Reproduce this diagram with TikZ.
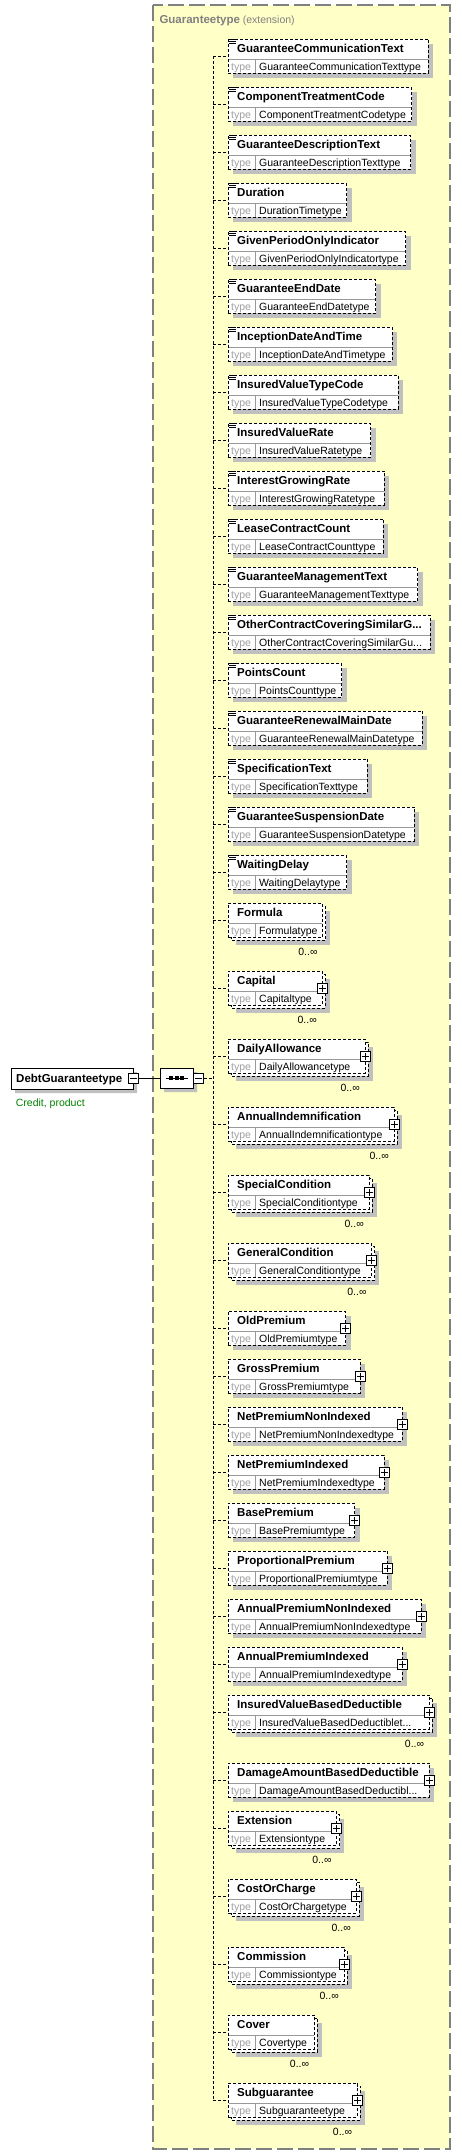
\documentclass[tikz,border=0pt]{standalone}
\usepackage{fontspec}
\setmainfont{Liberation Sans}
\usetikzlibrary{shapes.misc,shadows}
\definecolor{bgyellow}{HTML}{FFFFC8}
\definecolor{shadowgray}{HTML}{C0C0C0}
\definecolor{framegray}{HTML}{808080}
\definecolor{annotgreen}{HTML}{008000}
\definecolor{typegray}{HTML}{A0A0A0}
\tikzset{
 elbox/.style={draw=black, fill=white, line width=0.8pt, dash pattern=on 3pt off 2pt, inner sep=0pt, outer sep=0pt, rectangle},
 backbox/.style={draw=black, fill=white, line width=0.8pt, dash pattern=on 3pt off 2pt},
 divline/.style={draw=framegray!80, line width=0.7pt},
 namefont/.style={font=\fontsize{11.5}{13}\selectfont\bfseries, inner sep=0pt},
 typefont/.style={font=\fontsize{10.5}{12}\selectfont, inner sep=0pt},
 typelab/.style={font=\fontsize{10.5}{12}\selectfont, text=typegray, inner sep=0pt},
 multlab/.style={font=\fontsize{10.5}{12}\selectfont, inner sep=0pt},
 btn/.style={draw=black, fill=white, line width=0.8pt, minimum size=10pt, inner sep=0pt, rectangle},
 conn/.style={draw=black, line width=0.8pt, dash pattern=on 3pt off 2pt},
 icon/.style={draw=black, line width=0.8pt},
 sgl/.style={draw=black, line width=0.8pt},
}
% #1 id, #2 top, #3 right, #4 name, #5 type
\newcommand\xcore[5]{%
  \node[elbox, minimum width={(#3)-228}, minimum height=34, anchor=north west] (#1) at (228,#2) {};
  \draw[divline] (228.5,#2+20) -- (#3-0.5,#2+20);
  \draw[divline] (255.7,#2+20) -- (255.7,#2+33.5);
  \node[namefont, anchor=base west] (#1n) at (237,#2+13.5) {#4};
  \node[typelab, anchor=base west] (#1k) at (231,#2+31) {type};
  \node[typefont, anchor=base west] (#1t) at (259,#2+31) {#5};
}
\newcommand\xbtn[3]{%
  \node[btn] (#1b) at (#3,#2+17.3) {};
  \draw[sgl] ([xshift=-3.5pt]#1b.center) -- ([xshift=3.5pt]#1b.center)
             ([yshift=-3.5pt]#1b.center) -- ([yshift=3.5pt]#1b.center);
}
\newcommand\xsel[5]{%
  \fill[shadowgray] (233,#2+4.5) rectangle (#3+5,#2+38.5);
  \xcore{#1}{#2}{#3}{#4}{#5}
  \draw[icon] (229,#2+0.5) -- (235.5,#2+0.5) (229,#2+2.2) -- (235.5,#2+2.2) (229,#2+3.9) -- (235.5,#2+3.9);
}
\newcommand\xcel[5]{%
  \fill[shadowgray] (233,#2+4.5) rectangle (#3+5,#2+38.5);
  \xcore{#1}{#2}{#3}{#4}{#5}
  \xbtn{#1}{#2}{#3}
}
\newcommand\xrel[5]{%
  \fill[shadowgray] (235.5,#2+7.5) rectangle (#3+7.5,#2+41.5);
  \draw[backbox] (231,#2+3) rectangle (#3+3,#2+37);
  \xcore{#1}{#2}{#3}{#4}{#5}
  \node[multlab, anchor=base east] (#1m) at (#3-5,#2+52) {0..∞};
}
\newcommand\xrcel[5]{%
  \xrel{#1}{#2}{#3}{#4}{#5}
  \xbtn{#1}{#2}{#3}
}
\begin{document}
\begin{tikzpicture}[x=1pt,y=-1pt]
\useasboundingbox (0,0) rectangle (461,2155);
% container
\draw[framegray, line width=1.2pt, dash pattern=on 16pt off 5pt, fill=bgyellow] (153,5) rectangle (450,2149);
\node[anchor=base west, inner sep=0pt] (title) at (159.3,23)
  {\textcolor{framegray}{\fontsize{11.5}{13}\selectfont\bfseries Guaranteetype} \textcolor{framegray}{\fontsize{10.5}{12}\selectfont(extension)}};
% root element
\node[chamfered rectangle, chamfered rectangle corners={north west,south west},
      chamfered rectangle xsep=4pt, chamfered rectangle ysep=4pt,
      draw=black, fill=white, line width=0.8pt, inner sep=0pt,
      minimum width=122, minimum height=21, anchor=north west,
      general shadow={fill=shadowgray, shadow xshift=4pt, shadow yshift=-4pt}] (root) at (11,1068) {};
\node[namefont, anchor=base west] (rootn) at (16,1082.5) {DebtGuaranteetype};
\node[font=\fontsize{10.5}{12}\selectfont, text=annotgreen, anchor=base west, inner sep=0pt] (ann) at (15.7,1106) {Credit, product};
\node[btn] (rootb) at (133.3,1078) {};
\draw[sgl] ([xshift=-3.5pt]rootb.center) -- ([xshift=3.5pt]rootb.center);
% sequence compositor
\node[chamfered rectangle, chamfered rectangle xsep=5pt, chamfered rectangle ysep=5pt,
      draw=black, fill=white, line width=0.8pt, inner sep=0pt,
      minimum width=33, minimum height=20,
      general shadow={fill=shadowgray, shadow xshift=4pt, shadow yshift=-4pt}] (seq) at (176.5,1078) {};
\draw[sgl] ([xshift=-11pt]seq.center) -- ([xshift=11pt]seq.center);
\foreach \dx in {-5.5,0,5.5}{\fill[black] ([xshift=\dx pt]seq.center) +(-2,-1.6) rectangle +(2,1.6);}
\node[btn] (seqb) at (198.5,1078) {};
\draw[sgl] ([xshift=-3.5pt]seqb.center) -- ([xshift=3.5pt]seqb.center);
\draw[sgl] (rootb.east) -- (seq.west);
\coordinate (trunk) at (213,1078);
\draw[conn] (seqb.east) -- (trunk);
% children
\xsel{e1}{39}{428.3}{GuaranteeCommunicationText}{GuaranteeCommunicationTexttype}
\xsel{e2}{87}{411.7}{ComponentTreatmentCode}{ComponentTreatmentCodetype}
\xsel{e3}{135}{410.5}{GuaranteeDescriptionText}{GuaranteeDescriptionTexttype}
\xsel{e4}{183}{346.7}{Duration}{DurationTimetype}
\xsel{e5}{231}{405.7}{GivenPeriodOnlyIndicator}{GivenPeriodOnlyIndicatortype}
\xsel{e6}{279}{375.7}{GuaranteeEndDate}{GuaranteeEndDatetype}
\xsel{e7}{327}{392}{InceptionDateAndTime}{InceptionDateAndTimetype}
\xsel{e8}{375}{398}{InsuredValueTypeCode}{InsuredValueTypeCodetype}
\xsel{e9}{423}{370.7}{InsuredValueRate}{InsuredValueRatetype}
\xsel{e10}{471}{384.3}{InterestGrowingRate}{InterestGrowingRatetype}
\xsel{e11}{519}{383.3}{LeaseContractCount}{LeaseContractCounttype}
\xsel{e12}{567}{417.7}{GuaranteeManagementText}{GuaranteeManagementTexttype}
\xsel{e13}{615}{430}{OtherContractCoveringSimilarG...}{OtherContractCoveringSimilarGu...}
\xsel{e14}{663}{341.7}{PointsCount}{PointsCounttype}
\xsel{e15}{711}{422.3}{GuaranteeRenewalMainDate}{GuaranteeRenewalMainDatetype}
\xsel{e16}{759}{367.3}{SpecificationText}{SpecificationTexttype}
\xsel{e17}{807}{414.3}{GuaranteeSuspensionDate}{GuaranteeSuspensionDatetype}
\xsel{e18}{855}{346.7}{WaitingDelay}{WaitingDelaytype}
\xrel{e19}{903}{322.7}{Formula}{Formulatype}
\xrcel{e20}{971}{322}{Capital}{Capitaltype}
\xrcel{e21}{1039}{365}{DailyAllowance}{DailyAllowancetype}
\xrcel{e22}{1107}{394}{AnnualIndemnification}{AnnualIndemnificationtype}
\xrcel{e23}{1175}{369}{SpecialCondition}{SpecialConditiontype}
\xrcel{e24}{1243}{371.7}{GeneralCondition}{GeneralConditiontype}
\xcel{e25}{1311}{345.5}{OldPremium}{OldPremiumtype}
\xcel{e26}{1359}{360}{GrossPremium}{GrossPremiumtype}
\xcel{e27}{1407}{402.3}{NetPremiumNonIndexed}{NetPremiumNonIndexedtype}
\xcel{e28}{1455}{384}{NetPremiumIndexed}{NetPremiumIndexedtype}
\xcel{e29}{1503}{354.7}{BasePremium}{BasePremiumtype}
\xcel{e30}{1551}{387.3}{ProportionalPremium}{ProportionalPremiumtype}
\xcel{e31}{1599}{421}{AnnualPremiumNonIndexed}{AnnualPremiumNonIndexedtype}
\xcel{e32}{1647}{402}{AnnualPremiumIndexed}{AnnualPremiumIndexedtype}
\xrcel{e33}{1695}{429.3}{InsuredValueBasedDeductible}{InsuredValueBasedDeductiblet...}
\xcel{e34}{1763}{429.3}{DamageAmountBasedDeductible}{DamageAmountBasedDeductibl...}
\xrcel{e35}{1811}{336.7}{Extension}{Extensiontype}
\xrcel{e36}{1879}{356}{CostOrCharge}{CostOrChargetype}
\xrcel{e37}{1947}{344}{Commission}{Commissiontype}
\xrel{e38}{2015}{314.3}{Cover}{Covertype}
\xrcel{e39}{2083}{357.3}{Subguarantee}{Subguaranteetype}
% connectors
\draw[conn] (trunk |- e1.west) -- (trunk |- e39.west);
\foreach \i in {1,...,39}{\draw[conn] (trunk |- e\i.west) -- (e\i.west);}
\end{tikzpicture}
\end{document}
